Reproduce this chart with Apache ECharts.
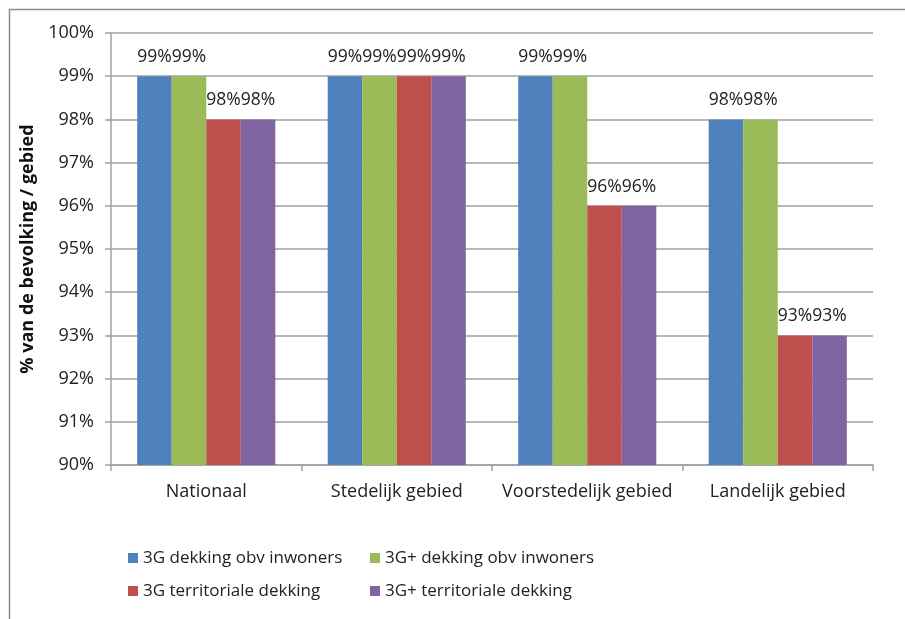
<!DOCTYPE html>
<html>
<head>
<meta charset="utf-8">
<script src="https://cdn.jsdelivr.net/npm/echarts@6/dist/echarts.min.js"></script>
<style>
  html, body { margin: 0; padding: 0; background: #fff; }
  #chart { width: 905px; height: 619px; }
</style>
</head>
<body>
<div id="chart"></div>
<script>
// Gebieden (categorieën) en dekkingspercentages per reeks
const categories = ['Nationaal', 'Stedelijk gebied', 'Voorstedelijk gebied', 'Landelijk gebied'];
const seriesNames = [
  '3G dekking obv inwoners',
  '3G+ dekking obv inwoners',
  '3G territoriale dekking',
  '3G+ territoriale dekking'
];
const dekking3gInwoners = [99, 99, 99, 98];
const dekking3gPlusInwoners = [99, 99, 99, 98];
const dekking3gTerritoriaal = [98, 99, 96, 93];
const dekking3gPlusTerritoriaal = [98, 99, 96, 93];
const yAxisTitle = '% van de bevolking / gebied';

const colors = ['#4F81BD', '#9BBB59', '#C0504D', '#8064A2'];
const values = [dekking3gInwoners, dekking3gPlusInwoners, dekking3gTerritoriaal, dekking3gPlusTerritoriaal];
const font = '"Open Sans", sans-serif';
const gridGray = '#a0a0a0';

const chart = echarts.init(document.getElementById('chart'), null, { renderer: 'canvas' });

const series = seriesNames.map((name, i) => ({
  name,
  type: 'bar',
  data: values[i],
  itemStyle: { color: colors[i] },
  barGap: '0%',
  barCategoryGap: '27.5%',
  label: {
    show: true,
    position: 'top',
    distance: 10,
    formatter: '{c}%',
    color: '#222',
    fontFamily: font,
    fontSize: 17.5
  }
}));

const legendText = { color: '#222', fontFamily: font, fontSize: 17, lineHeight: 20 };

chart.setOption({
  backgroundColor: '#fff',
  animation: false,
  color: colors,
  graphic: [{
    type: 'rect',
    shape: { x: 9.5, y: 9.5, width: 1000, height: 1000 },
    style: { fill: 'none', stroke: '#8c8c8c', lineWidth: 1.5 }
  }],
  grid: { left: 111, top: 33, right: 32, bottom: 154 },
  legend: [
    {
      orient: 'vertical', left: 123, top: 543,
      data: [seriesNames[0], seriesNames[2]],
      itemWidth: 10, itemHeight: 10, itemGap: 13,
      icon: 'rect', textStyle: legendText
    },
    {
      orient: 'vertical', left: 365, top: 543,
      data: [seriesNames[1], seriesNames[3]],
      itemWidth: 10, itemHeight: 10, itemGap: 13,
      icon: 'rect', textStyle: legendText
    }
  ],
  xAxis: {
    type: 'category',
    data: categories,
    axisLine: { lineStyle: { color: gridGray, width: 1.5 } },
    axisTick: { show: true, length: 6, lineStyle: { color: gridGray, width: 1.5 } },
    axisLabel: { interval: 0, color: '#222', fontFamily: font, fontSize: 18, margin: 18 }
  },
  yAxis: {
    type: 'value',
    min: 90, max: 100, interval: 1,
    name: yAxisTitle,
    nameLocation: 'middle',
    nameGap: 71,
    nameTextStyle: { color: '#111', fontFamily: font, fontSize: 18, fontWeight: 'bold' },
    axisLine: { show: true, lineStyle: { color: gridGray, width: 1.5 } },
    axisTick: { show: true, length: 6, lineStyle: { color: gridGray, width: 1.5 } },
    axisLabel: { formatter: '{value}%', color: '#222', fontFamily: font, fontSize: 18, margin: 17 },
    splitLine: { show: true, lineStyle: { color: gridGray, width: 1.5 } }
  },
  series
});
</script>
</body>
</html>
